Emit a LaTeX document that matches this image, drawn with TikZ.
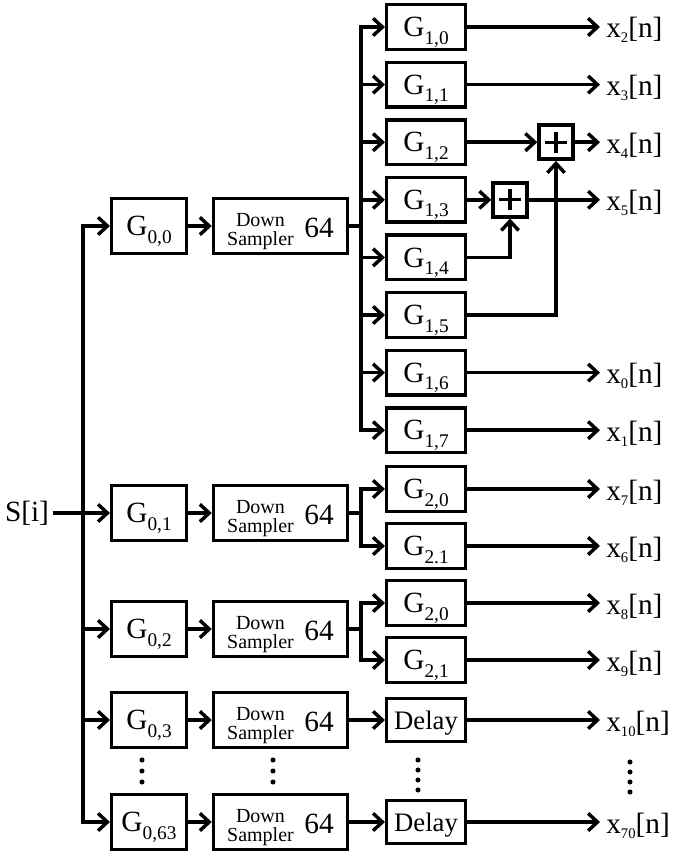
\documentclass[tikz,border=0pt]{standalone}
\usepackage{fontspec}
\setmainfont{Liberation Serif}
\usetikzlibrary{arrows.meta,positioning,calc}
\newcommand{\gsub}[1]{G\raisebox{-5.5pt}{\fontsize{14.5}{14.5}\selectfont #1}}
\newcommand{\xsub}[1]{x\raisebox{-3.75pt}{\fontsize{11}{11}\selectfont #1}[n]}
\newcommand{\dsamp}{\raisebox{-6pt}{\fontsize{15}{15}\selectfont
                    \shortstack{Down\\Sampler}}\hspace{8pt}64}

\begin{document}
\begin{tikzpicture}[
    x=0.75pt,y=-0.75pt,
    blk/.style    = {rectangle,draw,line width=2.6pt,inner sep=0pt,
                     font=\fontsize{22}{22}\selectfont},
    gzero/.style  = {blk,minimum width=56pt,minimum height=41pt,
                     text height=14.6pt,text depth=0pt},
    dsbox/.style  = {blk,minimum width=100.5pt,minimum height=41pt,
                     text height=18.7pt,text depth=2.2pt},
    gone/.style   = {blk,minimum width=59pt,minimum height=33.5pt,
                     text height=14.6pt,text depth=0pt},
    dlybox/.style = {blk,minimum width=59pt,minimum height=32pt,
                     text height=14.6pt,text depth=0pt,
                     font=\fontsize{20}{20}\selectfont},
    sumbox/.style = {blk,minimum size=25.5pt,
                     path picture={\draw[line width=2.4pt]
                       ([xshift=-8pt]path picture bounding box.center) --
                       ([xshift=8pt]path picture bounding box.center)
                       ([yshift=-8pt]path picture bounding box.center) --
                       ([yshift=8pt]path picture bounding box.center);}},
    outl/.style   = {anchor=base west,inner xsep=4.5pt,inner ysep=0pt,
                     font=\fontsize{22}{22}\selectfont},
    fl/.style     = {-{Straight Barb[length=7pt,width=13pt]},line width=2.6pt},
    ln/.style     = {line width=2.6pt},
  ]
  \useasboundingbox (0,0) rectangle (674,856);

  \node[inner sep=3pt,font=\fontsize{22}{22}\selectfont] (sin) at (27,513) {S[i]};
  \coordinate (lbus) at (83,513);
  \coordinate (rb0)  at (361,226);
  \coordinate (rb1)  at (361,513);
  \coordinate (rb2)  at (361,629);

  % premier etage
  \node[gzero] (g00)  at (149,226) {\gsub{0,0}};
  \node[gzero] (g01)  at (149,513) {\gsub{0,1}};
  \node[gzero] (g02)  at (149,629) {\gsub{0,2}};
  \node[gzero] (g03)  at (149,720) {\gsub{0,3}};
  \node[gzero] (g063) at (149,822) {\gsub{0,63}};

  \node[dsbox] (ds0)  at (280.5,226) {\dsamp};
  \node[dsbox] (ds1)  at (280.5,513) {\dsamp};
  \node[dsbox] (ds2)  at (280.5,629) {\dsamp};
  \node[dsbox] (ds3)  at (280.5,720) {\dsamp};
  \node[dsbox] (ds63) at (280.5,822) {\dsamp};

  % second etage
  \node[gone] (g10) at (426,27)    {\gsub{1,0}};
  \node[gone] (g11) at (426,84.6)  {\gsub{1,1}};
  \node[gone] (g12) at (426,142.2) {\gsub{1,2}};
  \node[gone] (g13) at (426,199.8) {\gsub{1,3}};
  \node[gone] (g14) at (426,257.4) {\gsub{1,4}};
  \node[gone] (g15) at (426,315)   {\gsub{1,5}};
  \node[gone] (g16) at (426,372.6) {\gsub{1,6}};
  \node[gone] (g17) at (426,430.2) {\gsub{1,7}};

  \node[gone] (g20a) at (426,489) {\gsub{2,0}};
  \node[gone] (g21a) at (426,546) {\gsub{2.1}};
  \node[gone] (g20b) at (426,603) {\gsub{2,0}};
  \node[gone] (g21b) at (426,660) {\gsub{2,1}};

  \node[dlybox] (dly3)  at (426,720) {Delay};
  \node[dlybox] (dly63) at (426,822) {Delay};

  \node[sumbox] (sa) at (510,199.8) {};
  \node[sumbox] (sb) at (556,142.2) {};

  % sorties
  \node[outl] (x2)  at (600,38)    {\xsub{2}};
  \node[outl] (x3)  at (600,95.6)  {\xsub{3}};
  \node[outl] (x4)  at (600,153.2) {\xsub{4}};
  \node[outl] (x5)  at (600,210.8) {\xsub{5}};
  \node[outl] (x0)  at (600,383.6) {\xsub{0}};
  \node[outl] (x1)  at (600,441.2) {\xsub{1}};
  \node[outl] (x7)  at (600,500)   {\xsub{7}};
  \node[outl] (x6)  at (600,557)   {\xsub{6}};
  \node[outl] (x8)  at (600,614)   {\xsub{8}};
  \node[outl] (x9)  at (600,671)   {\xsub{9}};
  \node[outl] (x10) at (600,731)   {\xsub{10}};
  \node[outl] (x70) at (600,833)   {\xsub{70}};

  % liaisons
  \draw[ln] (sin) -- (lbus);
  \draw[fl] (lbus) |- (g00);
  \draw[fl] (lbus) |- (g063);
  \draw[fl] (lbus) -- (g01);
  \draw[fl] (lbus |- g02) -- (g02);
  \draw[fl] (lbus |- g03) -- (g03);

  \draw[fl] (g00) -- (ds0);
  \draw[fl] (g01) -- (ds1);
  \draw[fl] (g02) -- (ds2);
  \draw[fl] (g03) -- (ds3);
  \draw[fl] (g063) -- (ds63);

  \draw[ln] (ds0) -- (rb0);
  \draw[fl] (rb0) |- (g10);
  \draw[fl] (rb0) |- (g17);
  \draw[fl] (rb0 |- g11) -- (g11);
  \draw[fl] (rb0 |- g12) -- (g12);
  \draw[fl] (rb0 |- g13) -- (g13);
  \draw[fl] (rb0 |- g14) -- (g14);
  \draw[fl] (rb0 |- g15) -- (g15);
  \draw[fl] (rb0 |- g16) -- (g16);

  \draw[ln] (ds1) -- (rb1);
  \draw[fl] (rb1) |- (g20a);
  \draw[fl] (rb1) |- (g21a);
  \draw[ln] (ds2) -- (rb2);
  \draw[fl] (rb2) |- (g20b);
  \draw[fl] (rb2) |- (g21b);

  \draw[fl] (ds3) -- (dly3);
  \draw[fl] (ds63) -- (dly63);

  \draw[fl] (g12) -- (sb);
  \draw[fl] (g13) -- (sa);
  \draw[fl] (g14.east) -| (sa.south);
  \draw[fl] (g15.east) -| (sb.south);

  \draw[fl] (g10) -- (g10 -| x2.west);
  \draw[fl] (g11) -- (g11 -| x3.west);
  \draw[fl] (sb) -- (sb -| x4.west);
  \draw[fl] (sa) -- (sa -| x5.west);
  \draw[fl] (g16) -- (g16 -| x0.west);
  \draw[fl] (g17) -- (g17 -| x1.west);
  \draw[fl] (g20a) -- (g20a -| x7.west);
  \draw[fl] (g21a) -- (g21a -| x6.west);
  \draw[fl] (g20b) -- (g20b -| x8.west);
  \draw[fl] (g21b) -- (g21b -| x9.west);
  \draw[fl] (dly3) -- (dly3 -| x10.west);
  \draw[fl] (dly63) -- (dly63 -| x70.west);

  % points de suspension
  \foreach \y in {760,771,782} {
    \fill (142,\y) circle (1.9pt);
    \fill (273,\y) circle (1.9pt);
  }
  \foreach \y in {760,770,780,790} {
    \fill (418,\y) circle (1.9pt);
    \fill (630,\y+2) circle (1.9pt);
  }

\end{tikzpicture}
\end{document}
